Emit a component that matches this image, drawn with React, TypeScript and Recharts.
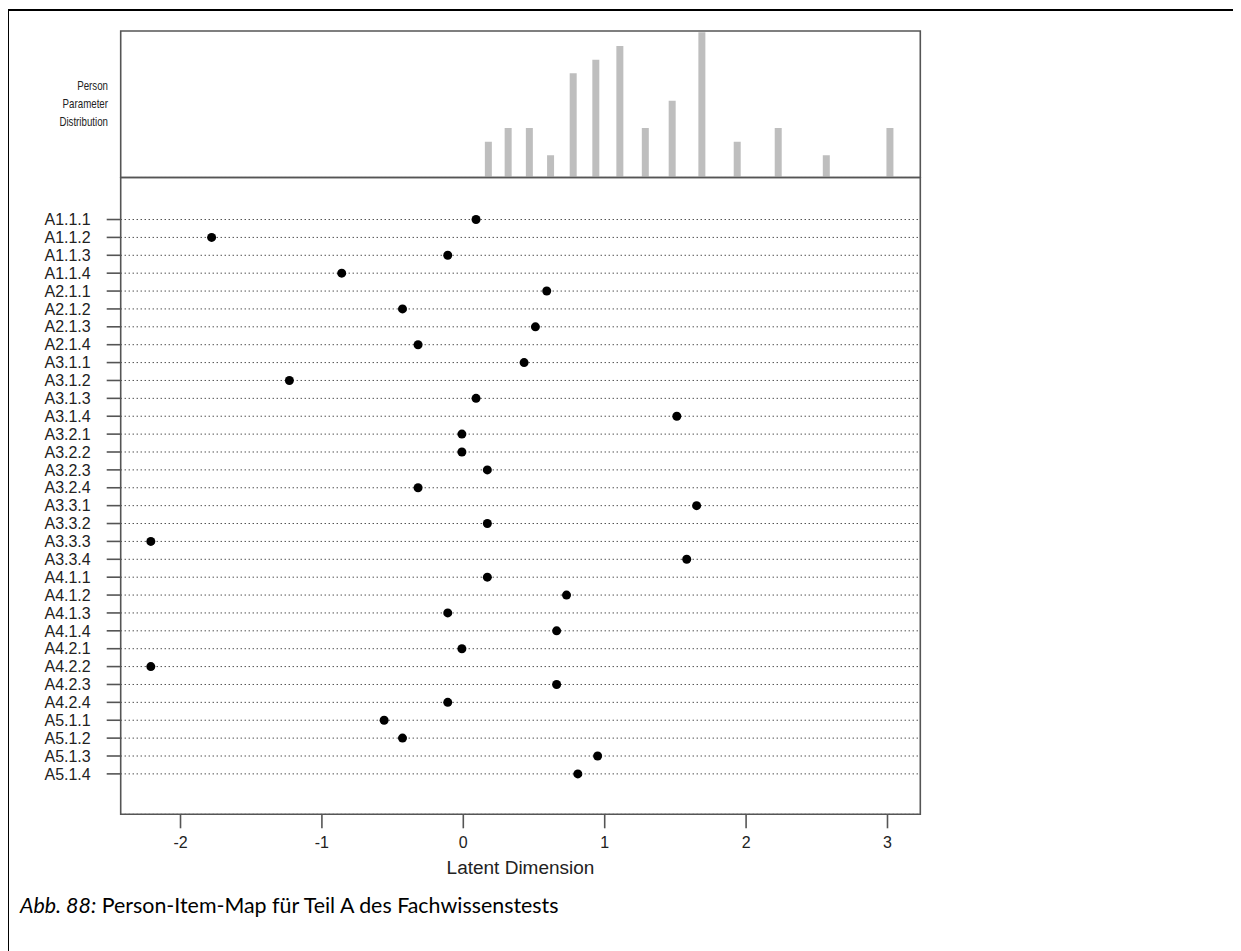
import React from 'react';
import { BarChart, Bar, ScatterChart, Scatter, XAxis, YAxis, CartesianGrid, ReferenceArea } from 'recharts';

const ITEMS = [
  'A1.1.1', 'A1.1.2', 'A1.1.3', 'A1.1.4',
  'A2.1.1', 'A2.1.2', 'A2.1.3', 'A2.1.4',
  'A3.1.1', 'A3.1.2', 'A3.1.3', 'A3.1.4',
  'A3.2.1', 'A3.2.2', 'A3.2.3', 'A3.2.4',
  'A3.3.1', 'A3.3.2', 'A3.3.3', 'A3.3.4',
  'A4.1.1', 'A4.1.2', 'A4.1.3', 'A4.1.4',
  'A4.2.1', 'A4.2.2', 'A4.2.3', 'A4.2.4',
  'A5.1.1', 'A5.1.2', 'A5.1.3', 'A5.1.4',
];

// item locations on the latent dimension
const ITEM_LOC = [
  0.09, -1.78, -0.11, -0.86,
  0.59, -0.43, 0.51, -0.32,
  0.43, -1.23, 0.09, 1.51,
  -0.01, -0.01, 0.17, -0.32,
  1.65, 0.17, -2.21, 1.58,
  0.17, 0.73, -0.11, 0.66,
  -0.01, -2.21, 0.66, -0.11,
  -0.56, -0.43, 0.95, 0.81,
];

// person parameter distribution
const PERSON_LOC = [0.18, 0.32, 0.47, 0.62, 0.78, 0.94, 1.11, 1.29, 1.48, 1.69, 1.94, 2.23, 2.57, 3.02];
const PERSON_N = [2, 3, 3, 1, 7, 8, 9, 3, 5, 10, 2, 3, 1, 3];

const X_TICKS = [-2, -1, 0, 1, 2, 3];

const X_MIN = -2.423;
const X_MAX = 3.232;
const HIST_MIN = -0.62;
const HIST_MAX = 10.1;
const ROW_MIN = -1.26;
const ROW_MAX = 34.35;

const AXIS = '#555';
const FONT = '"Liberation Sans", Arial, sans-serif';

export default function App() {
  const hist = PERSON_LOC.map((x, i) => ({ x, n: PERSON_N[i] }));
  const items = ITEMS.map((name, i) => ({ name, loc: ITEM_LOC[i], row: ITEMS.length - i }));
  const itemTicks = Array.from(new Set(ITEM_LOC)).sort((a, b) => a - b);
  const rowTicks = items.map((d) => d.row).reverse();
  const rowLabel = (v: number) => ITEMS[ITEMS.length - v] ?? '';

  return (
    <div style={{ position: 'relative', width: 1233, height: 943, fontFamily: FONT }}>
      <div style={{ position: 'absolute', left: -1, top: 1, width: 1228, height: 840, borderTop: '2px solid #000', borderLeft: '2px solid #000', borderRight: '2px solid #000' }} />
      <div style={{ position: 'absolute', left: -1, top: 843, height: 100, borderLeft: '2px solid #000' }} />

      <div style={{ position: 'absolute', left: 0, top: 69, width: 100, textAlign: 'right', fontSize: 13.5, lineHeight: '18px', color: '#222', transform: 'scaleX(0.72)', transformOrigin: 'right center' }}>
        Person<br />Parameter<br />Distribution
      </div>

      <div style={{ position: 'absolute', left: 0, top: 0 }}>
        <BarChart width={960} height={179.5} data={hist} margin={{ top: 23, right: 47.7, bottom: 0, left: 112.7 }}>
          <XAxis
            type="number"
            dataKey="x"
            domain={[X_MIN, X_MAX]}
            allowDataOverflow
            ticks={itemTicks}
            tick={false}
            tickSize={9}
            height={10}
            axisLine={false}
            tickLine={{ stroke: '#333', strokeWidth: 1.2 }}
          />
          <YAxis hide type="number" domain={[HIST_MIN, HIST_MAX]} allowDataOverflow />
          <Bar dataKey={(d: { n: number }) => [HIST_MIN, d.n]} fill="#bebebe" barSize={7} isAnimationActive={false} />
          <ReferenceArea x1={X_MIN} x2={X_MAX} y1={HIST_MIN} y2={HIST_MAX} fill="none" stroke={AXIS} strokeWidth={1.6} />
        </BarChart>
      </div>

      <div style={{ position: 'absolute', left: 0, top: 160 }}>
        <ScatterChart width={960} height={716.3} margin={{ top: 9.5, right: 47.7, bottom: 10, left: 12.7 }}>
          <CartesianGrid vertical={false} stroke="#000" strokeDasharray="1 3" />
          <XAxis
            type="number"
            dataKey="loc"
            domain={[X_MIN, X_MAX]}
            allowDataOverflow
            ticks={X_TICKS}
            tickSize={14}
            tickMargin={8}
            height={60}
            axisLine={false}
            tickLine={{ stroke: AXIS, strokeWidth: 1.6 }}
            tick={{ fontSize: 16, fill: '#222', fontFamily: FONT }}
            label={{ value: 'Latent Dimension', position: 'insideBottom', offset: 0, fontSize: 19, fill: '#222', fontFamily: FONT }}
          />
          <YAxis
            type="number"
            dataKey="row"
            domain={[ROW_MIN, ROW_MAX]}
            allowDataOverflow
            ticks={rowTicks}
            interval={0}
            tickFormatter={rowLabel}
            width={100}
            tickSize={14}
            tickMargin={16}
            axisLine={false}
            tickLine={{ stroke: AXIS, strokeWidth: 1.6 }}
            tick={{ fontSize: 16, fill: '#222', fontFamily: FONT }}
          />
          <Scatter
            data={items}
            isAnimationActive={false}
            shape={(p: { cx?: number; cy?: number }) => <circle cx={p.cx} cy={p.cy} r={4.5} fill="#000" />}
          />
          <ReferenceArea x1={X_MIN} x2={X_MAX} y1={ROW_MIN} y2={ROW_MAX} fill="none" stroke={AXIS} strokeWidth={1.6} />
        </ScatterChart>
      </div>

      <div style={{ position: 'absolute', left: 12, top: 884, fontFamily: 'Lato, "Open Sans", sans-serif', fontSize: 21.4, color: '#000', whiteSpace: 'nowrap' }}>
        <i>Abb. 88:</i> Person-Item-Map für Teil A des Fachwissenstests
      </div>
    </div>
  );
}
